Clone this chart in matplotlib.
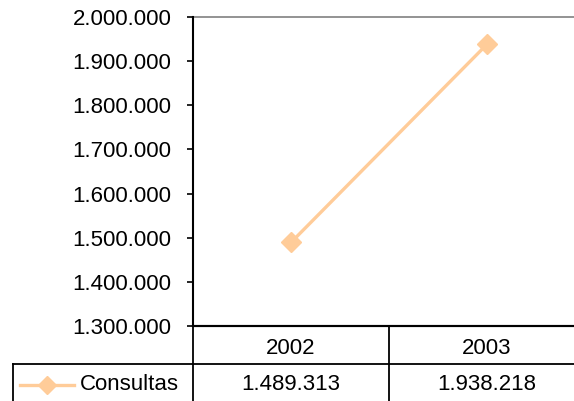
import numpy as np
import matplotlib.pyplot as plt
from matplotlib.lines import Line2D

years = ['2002', '2003']
consultas = [1489313, 1938218]
series_name = 'Consultas'
yticks = np.arange(1300000, 2000001, 100000)

plt.rcParams['font.family'] = ['Liberation Sans', 'DejaVu Sans']
FS = 16

def fmt(v):
    return '{:,}'.format(int(v)).replace(',', '.')

W, H = 574, 401
fig = plt.figure(figsize=(W / 100, H / 100), dpi=100)
# plot area runs past the right edge, like the original
ax = fig.add_axes([193 / W, 1 - 326 / H, (585 - 193) / W, (326 - 17) / H])

x = np.arange(len(years))
col = '#FFCC99'
ax.plot(x, consultas, color=col, lw=2.4, marker='D', ms=10.5, mec=col, mfc=col, zorder=3)

ax.set_xlim(-0.5, len(years) - 0.5)
ax.set_ylim(1300000, 2000000)
ax.set_yticks(yticks)
ax.set_yticklabels([fmt(v) for v in yticks], fontsize=FS)
ax.tick_params(axis='y', direction='out', length=4.5, width=1.2, pad=11)
ax.set_xticks([])
ax.axhline(2000000, color='#808080', lw=1.2, clip_on=False)

for s in ['top', 'right']:
    ax.spines[s].set_visible(False)
ax.spines['left'].set_linewidth(1.5)
ax.spines['bottom'].set_linewidth(1.5)

# data table below the plot, in pixel coords
def px(xp, yp):
    return xp / W, 1 - yp / H

def hline(x0, x1, y, lw=1.3):
    fig.add_artist(Line2D([x0 / W, x1 / W], [1 - y / H, 1 - y / H], color='black', lw=lw))

def vline(xp, y0, y1, lw=1.3):
    fig.add_artist(Line2D([xp / W, xp / W], [1 - y0 / H, 1 - y1 / H], color='black', lw=lw))

col_edges = [193, 389, 585]
hline(193, 585, 326, lw=1.5)
hline(13, 585, 364)
vline(13, 364, 402)
for xe in col_edges:
    vline(xe, 326, 402)

for i, yr in enumerate(years):
    cx = (col_edges[i] + col_edges[i + 1]) / 2
    fig.text(*px(cx, 349), yr, ha='center', va='center', fontsize=FS)
    fig.text(*px(cx, 385), fmt(consultas[i]), ha='center', va='center', fontsize=FS)

fig.add_artist(Line2D([20 / W, 74 / W], [1 - 385 / H] * 2, color=col, lw=2.4))
fig.add_artist(Line2D([47 / W], [1 - 385 / H], color=col, marker='D', ms=9.5, mec=col, mfc=col))
fig.text(*px(80, 385), series_name, ha='left', va='center', fontsize=FS)

fig.savefig('out.png', dpi=100)
